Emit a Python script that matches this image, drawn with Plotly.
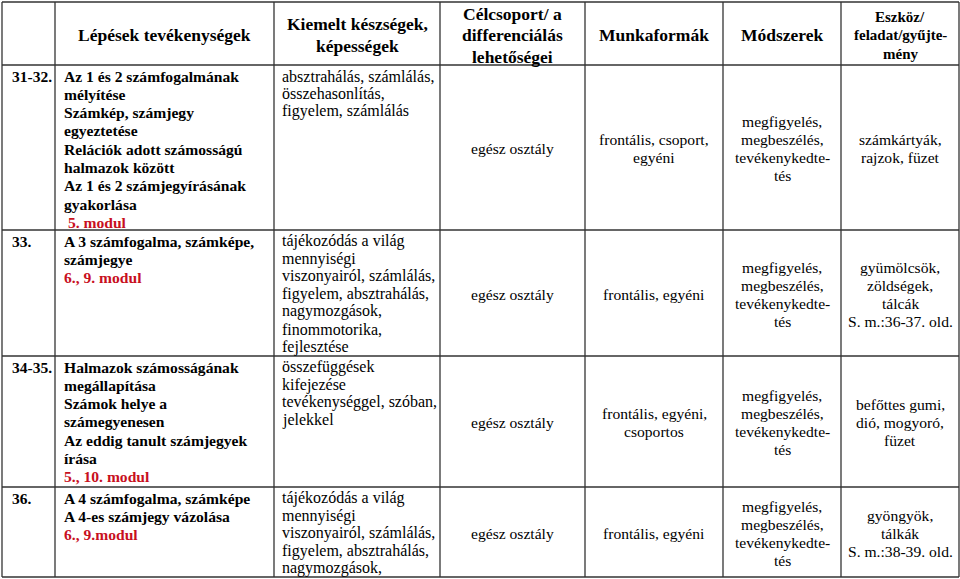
'''
Tanmenet táblázat (31-36. óra) rajzolása Plotly-val
'''

import plotly.graph_objects as go

# ---- table content ----
headers = [
    [''],
    ['Lépések tevékenységek'],
    ['Kiemelt készségek,', 'képességek'],
    ['Célcsoport/ a', 'differenciálás', 'lehetőségei'],
    ['Munkaformák'],
    ['Módszerek'],
    ['Eszköz/', 'feladat/gyűjte-', 'mény'],
]

lessons = ['31-32.', '33.', '34-35.', '36.']

activities = [
    ['Az 1 és 2 számfogalmának', 'mélyítése', 'Számkép, számjegy', 'egyeztetése',
     'Relációk adott számosságú', 'halmazok között', 'Az 1 és 2 számjegyírásának',
     'gyakorlása'],
    ['A 3 számfogalma, számképe,', 'számjegye'],
    ['Halmazok számosságának', 'megállapítása', 'Számok helye a', 'számegyenesen',
     'Az eddig tanult számjegyek', 'írása'],
    ['A 4 számfogalma, számképe', 'A 4-es számjegy vázolása'],
]

modules = [' 5. modul', '6., 9. modul', '5., 10. modul', '6., 9.modul']

skills = [
    ['absztrahálás, számlálás,', 'összehasonlítás,', 'figyelem, számlálás'],
    ['tájékozódás a világ', 'mennyiségi', 'viszonyairól, számlálás,',
     'figyelem, absztrahálás,', 'nagymozgások,', 'finommotorika,', 'fejlesztése'],
    ['összefüggések', 'kifejezése', 'tevékenységgel, szóban,', 'jelekkel'],
    ['tájékozódás a világ', 'mennyiségi', 'viszonyairól, számlálás,',
     'figyelem, absztrahálás,', 'nagymozgások,'],
]

target_groups = [['egész osztály'], ['egész osztály'], ['egész osztály'], ['egész osztály']]

work_forms = [
    ['frontális, csoport,', 'egyéni'],
    ['frontális, egyéni'],
    ['frontális, egyéni,', 'csoportos'],
    ['frontális, egyéni'],
]

methods = [['megfigyelés,', 'megbeszélés,', 'tevékenykedte-', 'tés']] * 4

tools = [
    ['számkártyák,', 'rajzok, füzet'],
    ['gyümölcsök,', 'zöldségek,', 'tálcák', 'S. m.:36-37. old.'],
    ['befőttes gumi,', 'dió, mogyoró,', 'füzet'],
    ['gyöngyök,', 'tálkák', 'S. m.:38-39. old.'],
]

# ---- layout of the grid ----
W, H = 960, 579
col_edges = [2, 55, 274, 440, 585, 723, 841, 959]
row_edges = [2, 65, 230, 356, 487, 577]

FONT = 'Liberation Serif, Times New Roman, serif'
BLACK = '#000000'
RED = '#c8101e'
LINE = '#333333'
STEP = 18.3

fig = go.Figure()
annotations = []


def add_line(text, x, y, size, bold=False, color=BLACK, xanchor='left'):
    if bold:
        text = '<b>' + text + '</b>'
    annotations.append(dict(
        x=x, y=y, xref='x', yref='y', text=text, showarrow=False,
        xanchor=xanchor, yanchor='middle',
        font=dict(family=FONT, size=size, color=color),
    ))


def centered_block(lines, x, yc, size, step, bold=False):
    n = len(lines)
    for i, t in enumerate(lines):
        add_line(t, x, yc + (i - (n - 1) / 2) * step, size, bold, xanchor='center')


# header row
hc = (row_edges[0] + row_edges[1]) / 2 + 1.5
for c, lines in enumerate(headers):
    if not lines[0]:
        continue
    xc = (col_edges[c] + col_edges[c + 1]) / 2
    if c == 6:
        centered_block(lines, xc, hc, 15, 18.5, bold=True)
    else:
        centered_block(lines, xc, hc, 17.5, 21.5, bold=True)

# body rows
for r in range(len(lessons)):
    top = row_edges[r + 1]
    yc = (row_edges[r + 1] + row_edges[r + 2]) / 2 + 1
    y0 = top + 11

    add_line(lessons[r], col_edges[0] + 8, y0, 15.5, bold=True)

    act = activities[r]
    for i, t in enumerate(act):
        add_line(t, col_edges[1] + 7, y0 + i * STEP, 15.6, bold=True)
    add_line(modules[r], col_edges[1] + 7, y0 + len(act) * STEP, 15.6, bold=True, color=RED)

    sk = skills[r]
    for i, t in enumerate(sk):
        add_line(t, col_edges[2] + 6, top + 11 + i * 17.6, 16)

    for c, col in zip([3, 4, 5, 6], [target_groups, work_forms, methods, tools]):
        xc = (col_edges[c] + col_edges[c + 1]) / 2
        centered_block(col[r], xc, yc, 15.6, 18)

# grid lines
for x in col_edges:
    fig.add_shape(type='line', x0=x, x1=x, y0=row_edges[0], y1=row_edges[-1],
                  xref='x', yref='y', line=dict(color=LINE, width=1.3))
for y in row_edges:
    fig.add_shape(type='line', x0=col_edges[0], x1=col_edges[-1], y0=y, y1=y,
                  xref='x', yref='y', line=dict(color=LINE, width=1.3))

fig.update_layout(
    width=W, height=H,
    margin=dict(l=0, r=0, t=0, b=0),
    paper_bgcolor='white', plot_bgcolor='white',
    xaxis=dict(range=[0, W], visible=False, fixedrange=True),
    yaxis=dict(range=[H, 0], visible=False, fixedrange=True),
    annotations=annotations,
    showlegend=False,
)

fig.write_html('out.html', config={'displayModeBar': False},
               post_script="document.body.style.margin='0';"
                           "document.body.style.overflow='hidden';")
